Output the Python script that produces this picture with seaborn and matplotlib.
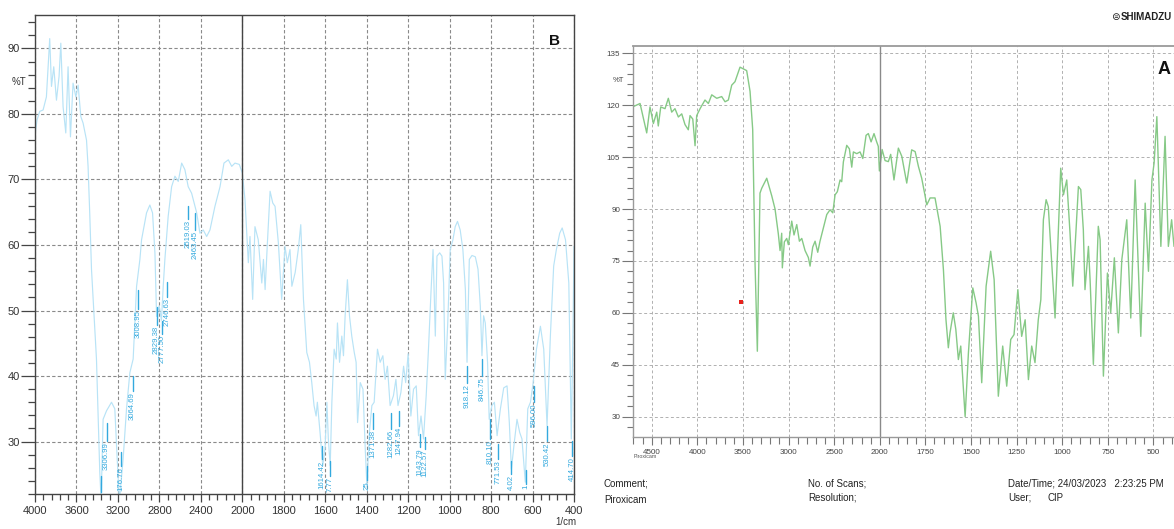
import numpy as np
import pandas as pd
import matplotlib
matplotlib.use("Agg")
import matplotlib.pyplot as plt
from matplotlib.ticker import FixedLocator, NullFormatter
import seaborn as sns

# ---------------- Panel B (blue spectrum) ----------------
b_wn = [4003, 3980, 3954, 3922, 3890, 3858, 3841, 3819, 3793, 3768, 3751, 3729, 3703, 3681, 3658,
        3633, 3606, 3584, 3558, 3536, 3503, 3488, 3471, 3455, 3407, 3375, 3362, 3343, 3310, 3262,
        3230, 3207, 3186, 3150, 3117, 3085, 3053, 3020, 2988, 2972, 2924, 2892, 2866, 2843, 2827,
        2802, 2780, 2763, 2747, 2715, 2682, 2650, 2618, 2585, 2554, 2522, 2489, 2440, 2409, 2377,
        2344, 2312, 2264, 2215, 2177, 2135, 2102, 2071, 2029, 2000, 1987, 1971, 1963, 1950, 1939,
        1923, 1906, 1898, 1890, 1879, 1866, 1853, 1842, 1826, 1810, 1794, 1783, 1770, 1761, 1745,
        1730, 1718, 1705, 1689, 1676, 1665, 1654, 1644, 1638, 1625, 1612, 1601, 1592, 1585, 1576,
        1568, 1557, 1547, 1541, 1531, 1520, 1512, 1504, 1493, 1483, 1472, 1460, 1451, 1444, 1431,
        1418, 1407, 1399, 1387, 1375, 1364, 1348, 1335, 1322, 1311, 1300, 1287, 1271, 1259, 1249,
        1235, 1222, 1212, 1200, 1187, 1174, 1161, 1150, 1138, 1126, 1113, 1102, 1090, 1080, 1069,
        1061, 1048, 1037, 1029, 1021, 1009, 997, 984, 973, 962, 949, 936, 924, 916, 905,
        892, 876, 863, 852, 844, 836, 828, 817, 809, 796, 784, 771, 755, 739, 723,
        712, 702, 688, 675, 662, 651, 635, 623, 610, 597, 581, 562, 546, 530, 514,
        498, 485, 469, 457, 441, 425, 413, 404, 400]
b_T = [76.5, 79.1, 80.4, 80.6, 82.6, 91.5, 84.2, 87.2, 82.1, 85.7, 90.8, 81.1, 77.1, 87.2, 76.5,
       84.7, 82.6, 84.4, 79.6, 78.6, 76.0, 72.0, 64.4, 56.3, 42.6, 25.3, 21.0, 33.4, 34.7, 36.0,
       35.0, 27.3, 21.0, 27.3, 35.0, 40.5, 42.6, 53.7, 57.8, 60.8, 64.9, 66.1, 64.9, 58.8, 49.1,
       50.7, 48.5, 53.7, 57.8, 64.4, 68.9, 70.5, 69.7, 72.5, 71.5, 68.9, 67.9, 64.9, 61.8, 62.3,
       61.3, 62.3, 65.9, 68.9, 72.5, 73.0, 72.0, 72.5, 72.3, 71.0, 66.9, 57.3, 61.3, 51.7, 62.8,
       60.8, 54.2, 57.8, 53.2, 60.3, 68.2, 66.4, 65.9, 60.3, 51.7, 59.8, 57.3, 59.3, 53.7, 55.8,
       59.3, 63.1, 51.7, 43.6, 42.1, 39.0, 35.5, 33.9, 36.0, 31.4, 26.3, 28.9, 36.0, 30.4, 26.3,
       36.0, 44.1, 42.6, 48.1, 42.1, 46.1, 43.1, 49.2, 54.7, 49.2, 46.1, 43.6, 42.1, 32.9, 39.0,
       38.0, 28.9, 23.3, 31.4, 35.5, 36.0, 44.1, 42.1, 43.1, 39.5, 41.5, 35.5, 37.0, 39.5, 35.5,
       37.5, 41.5, 39.0, 43.4, 33.9, 38.0, 38.5, 30.9, 33.9, 30.4, 37.0, 44.1, 52.7, 59.3, 46.1,
       58.3, 58.8, 58.3, 54.2, 39.5, 48.1, 59.3, 60.8, 62.8, 63.6, 62.3, 59.3, 53.2, 42.1, 57.8,
       58.4, 58.2, 56.3, 50.7, 43.1, 49.2, 48.1, 42.1, 33.4, 35.5, 36.0, 30.9, 35.0, 38.2, 38.5,
       32.9, 25.8, 29.9, 33.4, 31.4, 30.4, 23.8, 35.0, 36.0, 39.0, 44.1, 47.6, 44.1, 32.4, 46.1,
       56.8, 59.3, 61.8, 62.6, 60.8, 54.2, 30.4, 49.2, 59.8]

# peak labels (texts cut by the bottom of the frame are given as they appear)
b_peak_wn = [3365, 3310, 3175, 3059, 3005, 2827, 2773, 2724, 2522, 2457, 1616, 1577, 1399, 1370,
             1282, 1246, 1142, 1118, 916, 844, 807, 768, 702, 631, 594, 530, 409]
b_peak_txt = ["", "3306.99", "176.76", "3064.69", "3008.95", "2829.38", "2777.50", "2746.63",
              "2519.03", "2463.45", "1614.42", "7.77", "25", "1371.38", "1282.66",
              "1247.94", "1143.79", "1122.57", "918.12", "846.75", "810.10", "771.53", "4.02",
              "1", "596.00", "530.42", "414.70"]
b_peak_top = [24.8, 32.9, 28.4, 40.0, 53.2, 50.5, 48.4, 54.3, 65.9, 64.9, 29.4, 27.1, 26.3, 34.3,
              34.3, 34.7, 31.1, 30.7, 41.5, 42.6, 33.4, 29.6, 27.1, 25.6, 38.5, 32.4, 30.1]
b_peak_bot = [22.3, 30.1, 26.3, 37.7, 50.2, 47.8, 46.4, 52.0, 63.9, 62.3, 27.3, 24.8, 24.1, 31.9,
              31.9, 32.4, 29.1, 28.9, 39.0, 40.0, 30.4, 27.3, 25.1, 23.6, 36.0, 30.1, 27.8]

b_xticks = [4000, 3600, 3200, 2800, 2400, 2000, 1800, 1600, 1400, 1200, 1000, 800, 600, 400]
b_yticks = [30, 40, 50, 60, 70, 80, 90]

# ---------------- Panel A (green spectrum) ----------------
a_wn = [4702, 4628, 4555, 4519, 4482, 4445, 4428, 4401, 4354, 4318, 4281, 4245, 4208, 4171, 4135,
        4099, 4080, 4050, 4025, 4007, 3970, 3916, 3879, 3842, 3787, 3733, 3696, 3660, 3623, 3587,
        3532, 3496, 3459, 3422, 3393, 3367, 3342, 3313, 3294, 3239, 3184, 3148, 3112, 3093, 3075,
        3068, 3046, 3020, 3002, 2965, 2940, 2910, 2881, 2855, 2819, 2783, 2764, 2735, 2709, 2680,
        2655, 2618, 2581, 2545, 2515, 2490, 2465, 2435, 2417, 2399, 2362, 2333, 2307, 2289, 2252,
        2216, 2186, 2150, 2125, 2095, 2063, 2035, 2016, 2004, 1987, 1971, 1953, 1940, 1922, 1898,
        1879, 1852, 1825, 1806, 1788, 1770, 1742, 1724, 1697, 1669, 1651, 1637, 1624, 1615, 1597,
        1583, 1569, 1556, 1532, 1514, 1490, 1472, 1459, 1441, 1417, 1392, 1373, 1350, 1326, 1304,
        1282, 1264, 1243, 1222, 1203, 1185, 1167, 1149, 1131, 1117, 1103, 1088, 1076, 1057, 1039,
        1021, 1008, 993, 975, 957, 942, 924, 911, 898, 884, 875, 856, 847, 829, 802,
        792, 774, 752, 734, 714, 692, 673, 646, 624, 600, 569, 545, 527, 508, 496,
        481, 459, 436, 418, 400, 387]
a_T = [119.6, 120.5, 112.0, 119.5, 114.7, 118.0, 114.0, 119.5, 119.0, 122.0, 118.0, 119.0, 116.6, 117.5, 114.4,
       112.9, 117.0, 116.0, 108.3, 117.0, 119.0, 121.5, 120.5, 123.0, 122.0, 122.5, 121.0, 121.5, 125.8, 126.8,
       131.0, 130.5, 130.0, 124.0, 113.0, 74.0, 48.9, 94.6, 96.0, 98.9, 93.8, 90.0, 82.8, 78.0, 83.0,
       73.0, 80.5, 81.5, 79.7, 86.5, 82.5, 85.5, 80.7, 81.5, 78.0, 76.0, 73.5, 79.0, 80.7, 77.5,
       80.7, 84.6, 88.4, 89.8, 88.9, 94.1, 95.0, 98.4, 97.9, 103.6, 108.4, 107.4, 102.1, 106.5, 106.0,
       106.5, 104.6, 111.3, 111.8, 109.4, 111.8, 109.5, 108.1, 101.0, 107.2, 104.0, 103.7, 105.8, 98.4, 107.6,
       105.2, 97.5, 107.1, 106.6, 102.3, 98.9, 91.2, 93.2, 93.2, 85.0, 72.5, 58.0, 49.9, 54.2, 60.0,
       55.2, 46.5, 50.4, 30.0, 48.4, 67.2, 62.9, 59.0, 39.8, 67.7, 77.8, 69.6, 35.9, 50.4, 38.8,
       52.3, 53.7, 66.7, 53.2, 58.0, 40.7, 50.4, 45.6, 58.0, 63.8, 86.9, 92.7, 90.7, 74.4, 58.5,
       84.0, 101.8, 94.1, 98.4, 83.1, 67.7, 84.0, 96.5, 95.6, 84.0, 66.7, 79.2, 69.6, 45.1, 85.0,
       81.1, 41.7, 71.5, 60.0, 75.9, 54.2, 75.4, 86.9, 58.5, 98.4, 53.2, 91.7, 72.0, 98.4, 103.3,
       116.7, 79.2, 111.0, 79.2, 86.9, 79.2]

a_marker_wn = [3521]
a_marker_T = [63.2]

a_xticks = [4500, 4000, 3500, 3000, 2500, 2000, 1750, 1500, 1250, 1000, 750, 500]
a_yticks = [30, 45, 60, 75, 90, 105, 120, 135]

# ---------------- Style ----------------
sns.set_theme(style="white")
plt.rcParams['font.family'] = ['Liberation Sans Narrow', 'Liberation Sans', 'DejaVu Sans']

W, H = 1174, 529
fig = plt.figure(figsize=(W / 100, H / 100), dpi=100)
fig.patch.set_facecolor("white")


def fwd(w):
    w = np.asarray(w, dtype=float)
    return np.where(w >= 2000, w, 2 * w - 2000)


def inv(u):
    u = np.asarray(u, dtype=float)
    return np.where(u >= 2000, u, (u + 2000) / 2)


def frac(x, y):
    return x / W, 1 - y / H


# ---------------- Panel B ----------------
axB = fig.add_axes([35 / W, 1 - 494 / H, 539 / W, 479 / H])
dfB = pd.DataFrame({"wn": b_wn, "T": b_T})
sns.lineplot(data=dfB, x="wn", y="T", ax=axB, color="#b8e3f6", lw=0.85,
             sort=False, estimator=None)
axB.set_xscale("function", functions=(fwd, inv))
axB.set_xlim(4000, 400)
axB.set_ylim(22.0, 95.1)
axB.set_xlabel("")
axB.set_ylabel("")
axB.xaxis.set_major_locator(FixedLocator(b_xticks))
axB.xaxis.set_minor_locator(FixedLocator(list(np.arange(4000, 2000, -80)) + list(np.arange(2000, 399, -40))))
axB.yaxis.set_major_locator(FixedLocator(b_yticks))
axB.yaxis.set_minor_locator(FixedLocator(list(np.arange(22, 96, 2))))
axB.xaxis.set_minor_formatter(NullFormatter())
axB.grid(True, which="major", color="#8a8a8a", lw=0.8, ls=(0, (3, 2)))
axB.axvline(2000, color="#444444", lw=1.0)
for s in axB.spines.values():
    s.set_color("#444444")
    s.set_linewidth(1.0)
axB.tick_params(axis="x", which="major", direction="out", length=6, width=0.9,
                color="#444444", labelsize=8, labelcolor="#333333", pad=3, bottom=True)
axB.tick_params(axis="x", which="minor", direction="out", length=4, width=0.9,
                color="#444444", bottom=True)
axB.tick_params(axis="y", which="major", direction="out", length=10, width=0.9,
                color="#444444", labelsize=8, labelcolor="#333333", pad=1, left=True)
axB.tick_params(axis="y", which="minor", direction="out", length=5, width=0.9,
                color="#444444", left=True)

for w, t, top, bot in zip(b_peak_wn, b_peak_txt, b_peak_top, b_peak_bot):
    axB.plot([w, w], [top, bot], color="#33a9de", lw=1.0)
    if t:
        axB.text(w, bot - 0.15, t, rotation=90, ha="center", va="top", fontsize=5.6,
                 color="#33a9de", clip_on=True, family=["Liberation Sans", "DejaVu Sans"])

fig.text(*frac(19, 82), "%T", fontsize=7, ha="center", va="center", color="#333333")
fig.text(*frac(554, 41), "B", fontsize=11, fontweight="bold", ha="center", va="center",
         color="#111111", family=["Liberation Sans", "DejaVu Sans"])
fig.text(*frac(566, 522), "1/cm", fontsize=7, ha="center", va="center", color="#333333")

# ---------------- Panel A ----------------
axA = fig.add_axes([633.3 / W, 1 - 436.7 / H, (W - 633.3) / W, (436.7 - 45.7) / H])
dfA = pd.DataFrame({"wn": a_wn, "T": a_T})
sns.lineplot(data=dfA, x="wn", y="T", ax=axA, color="#86c986", lw=1.0,
             sort=False, estimator=None)
axA.set_xscale("function", functions=(fwd, inv))
axA.set_xlim(4702, 387)
axA.set_ylim(24.2, 137.2)
axA.set_xlabel("")
axA.set_ylabel("")
axA.scatter(a_marker_wn, a_marker_T, marker="s", s=7, color="#e8221c", zorder=5, linewidths=0)
axA.xaxis.set_major_locator(FixedLocator(a_xticks))
axA.xaxis.set_minor_locator(FixedLocator(list(np.arange(4700, 2000, -100)) + list(np.arange(2000, 386, -50))))
axA.yaxis.set_major_locator(FixedLocator(a_yticks))
axA.yaxis.set_minor_locator(FixedLocator(list(np.arange(27, 136, 3))))
axA.grid(True, which="major", color="#b0b0b0", lw=0.7, ls=(0, (3, 2.5)))
axA.axvline(2000, color="#8a8a8a", lw=1.0)
for k, s in axA.spines.items():
    s.set_color("#9a9a9a")
    s.set_linewidth(1.3 if k == "top" else 1.0)
axA.spines["right"].set_visible(False)
axA.tick_params(axis="x", which="major", direction="out", length=6, width=0.8,
                color="#777777", labelsize=5.8, labelcolor="#444444", pad=3, bottom=True)
axA.tick_params(axis="x", which="minor", direction="out", length=5, width=0.8,
                color="#777777", bottom=True)
axA.tick_params(axis="y", which="major", direction="out", length=8, width=0.8,
                color="#777777", labelsize=5.8, labelcolor="#444444", pad=1.5, left=True)
axA.tick_params(axis="y", which="minor", direction="out", length=4, width=0.8,
                color="#777777", left=True)

fig.text(*frac(618, 81), "%T", fontsize=5.5, ha="center", va="center", color="#444444")
fig.text(*frac(1164, 70), "A", fontsize=13, fontweight="bold", ha="center", va="center",
         color="#111111", family=["Liberation Sans", "DejaVu Sans"])
fig.text(*frac(1115, 17), "\u229c", fontsize=7.5, ha="center", va="center", color="#222222",
         family=["DejaVu Sans"])
fig.text(*frac(1121, 17), "SHIMADZU", fontsize=7, fontweight="bold", ha="left", va="center",
         color="#222222", family=["Liberation Sans", "DejaVu Sans"])
fig.text(*frac(634, 457), "Piroxicam", fontsize=3.8, ha="left", va="center", color="#555555")
fig.text(*frac(604, 484), "Comment;", fontsize=7, ha="left", va="center", color="#222222")
fig.text(*frac(604, 500), "Piroxicam", fontsize=7, ha="left", va="center", color="#222222")
fig.text(*frac(808, 484), "No. of Scans;", fontsize=7, ha="left", va="center", color="#222222")
fig.text(*frac(808, 498), "Resolution;", fontsize=7, ha="left", va="center", color="#222222")
fig.text(*frac(1008, 484), "Date/Time; 24/03/2023   2:23:25 PM", fontsize=7, ha="left",
         va="center", color="#222222")
fig.text(*frac(1008, 498), "User;", fontsize=7, ha="left", va="center", color="#222222")
fig.text(*frac(1047, 498), "CIP", fontsize=7, ha="left", va="center", color="#222222")

fig.savefig("out.png", dpi=100, facecolor="white")
